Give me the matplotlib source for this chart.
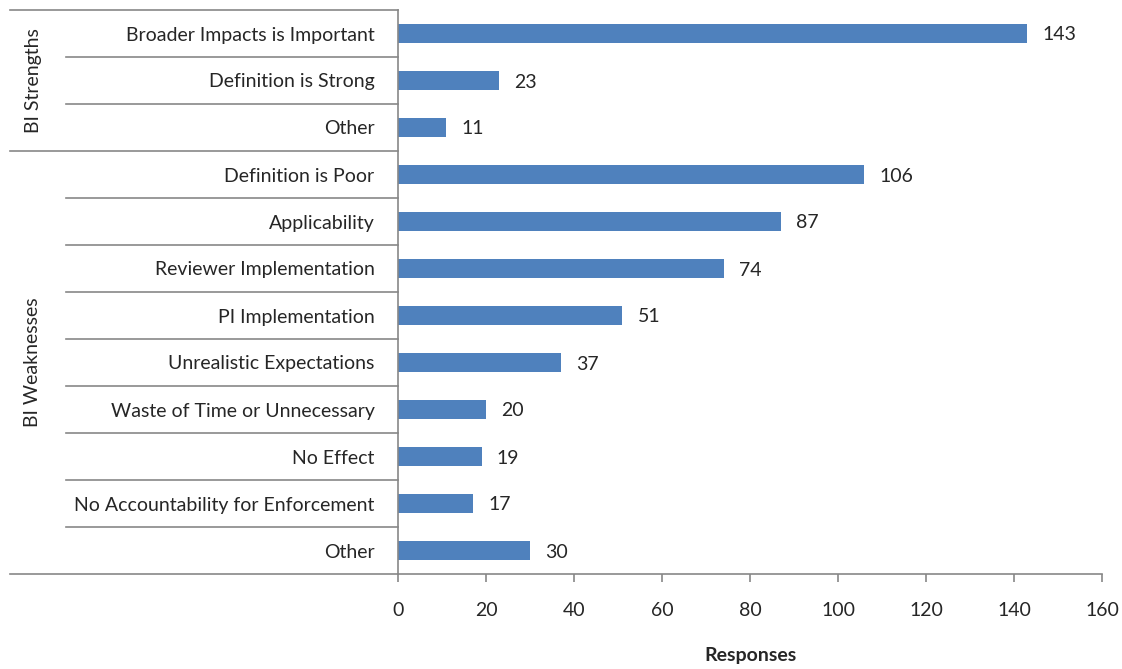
import matplotlib
matplotlib.use("Agg")
import matplotlib.pyplot as plt
import matplotlib.transforms as mtransforms

# data
categories = ["Broader Impacts is Important", "Definition is Strong", "Other",
              "Definition is Poor", "Applicability", "Reviewer Implementation",
              "PI Implementation", "Unrealistic Expectations",
              "Waste of Time or Unnecessary", "No Effect",
              "No Accountability for Enforcement", "Other"]
responses = [143, 23, 11, 106, 87, 74, 51, 37, 20, 19, 17, 30]
groups = ["BI Strengths", "BI Weaknesses"]
group_sizes = [3, 9]

bar_color = "#4F81BD"
line_color = "#878787"
text_color = "#262626"

plt.rcParams['font.family'] = ['Lato', 'DejaVu Sans']

fig = plt.figure(figsize=(11.22, 6.69), dpi=100)
ax = fig.add_axes([398/1122, 1-574/669, 704/1122, 564/669])

ypos = list(range(len(categories)))
ax.barh(ypos, responses, height=0.4, color=bar_color)
for y, v in zip(ypos, responses):
    ax.annotate(str(v), (v, y), xytext=(11, 0), textcoords="offset points",
                va="center_baseline", ha="left", fontsize=14, color=text_color)

ax.set_xlim(0, 160)
ax.set_ylim(len(categories) - 0.5, -0.5)
ax.set_xticks(range(0, 161, 20))
ax.set_yticks(ypos)
ax.set_yticklabels(categories)
ax.tick_params(axis="y", length=0, pad=17, labelsize=14, labelcolor=text_color)
ax.tick_params(axis="x", length=6, width=1.2, color=line_color, direction="out",
               pad=14, labelsize=14, labelcolor=text_color)
for side in ["top", "right"]:
    ax.spines[side].set_visible(False)
for side in ["left", "bottom"]:
    ax.spines[side].set_color(line_color)
    ax.spines[side].set_linewidth(1.2)
ax.set_xlabel("Responses", fontsize=14, fontweight="bold", color=text_color, labelpad=20)

# category/group separator lines at the left
trans = mtransforms.blended_transform_factory(ax.transAxes, ax.transData)
inner_x = (66 - 398) / 704
outer_x = (10 - 398) / 704
boundaries = [0]
for s in group_sizes:
    boundaries.append(boundaries[-1] + s)
for i in range(len(categories) + 1):
    yb = i - 0.5
    x0 = outer_x if i in boundaries else inner_x
    ax.plot([x0, 0], [yb, yb], color=line_color, lw=1.2, transform=trans, clip_on=False)

for g, start, end in zip(groups, boundaries[:-1], boundaries[1:]):
    yc = (start + end - 1) / 2
    ax.text((33 - 398) / 704, yc, g, transform=trans, rotation=90,
            ha="center", va="center", fontsize=14, color=text_color)

fig.savefig("out.png", dpi=100)
